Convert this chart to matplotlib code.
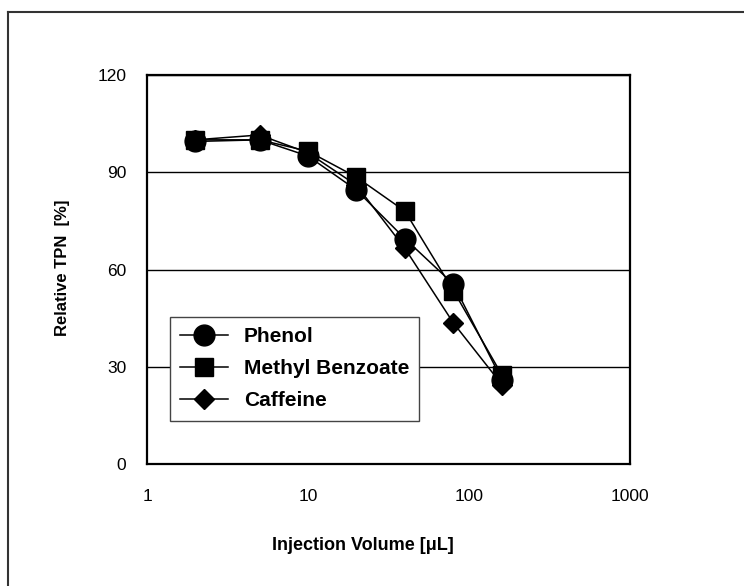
import matplotlib
matplotlib.use("Agg")
import matplotlib.pyplot as plt
from matplotlib.lines import Line2D

plt.rcParams["font.family"] = ["Liberation Sans", "DejaVu Sans"]

volumes = [2, 5, 10, 20, 40, 80, 160]
phenol = [99.5, 100, 95, 84.5, 69.5, 55.5, 26]
methyl_benzoate = [100, 100, 96.5, 88.5, 78, 53.5, 27.5]
caffeine = [100, 101.5, 96, 86, 66.5, 43.5, 24.5]

series = [
    ("Phenol", phenol, "o", 15),
    ("Methyl Benzoate", methyl_benzoate, "s", 13.5),
    ("Caffeine", caffeine, "D", 10.5),
]

W, H = 744, 586
fig = plt.figure(figsize=(W / 100, H / 100), dpi=100)
ax = fig.add_axes([147 / W, 1 - 464 / H, (630 - 147) / W, (464 - 75) / H])

for name, vals, mk, ms in series:
    ax.plot(volumes, vals, color="black", lw=1.1, marker=mk, markersize=ms,
            markerfacecolor="black", markeredgecolor="black", label=name)

ax.set_xscale("log")
ax.set_xlim(1, 1000)
ax.set_ylim(0, 120)
ax.set_xticks([1, 10, 100, 1000])
ax.set_xticklabels(["1", "10", "100", "1000"])
ax.minorticks_off()
ax.set_yticks([0, 30, 60, 90, 120])
ax.tick_params(axis="both", length=0, labelsize=12.5)
ax.tick_params(axis="x", pad=18)
ax.tick_params(axis="y", pad=15)
ax.grid(axis="y", color="black", lw=1)
ax.set_axisbelow(True)
for sp in ax.spines.values():
    sp.set_linewidth(1.6)

leg = ax.legend(loc="upper left", bbox_to_anchor=(0.047, 0.378), frameon=True,
                fancybox=False, edgecolor="#444444", framealpha=1,
                prop={"weight": "bold", "size": 15}, handlelength=2.3,
                handletextpad=0.75, labelspacing=0.62, borderpad=0.5,
                borderaxespad=0)
leg.get_frame().set_linewidth(1)

fig.text((272 + 453) / 2 / W, 1 - 545 / H, "Injection Volume [\u03bcL]",
         ha="center", va="center", fontsize=13, fontweight="bold")
fig.text(63 / W, 1 - 268 / H, "Relative TPN  [%]", rotation=90,
         ha="center", va="center", fontsize=12, fontweight="bold")

# outer frame (top and left edges visible)
fig.add_artist(Line2D([8 / W, 1], [1 - 12 / H, 1 - 12 / H], color="#333333", lw=1.5))
fig.add_artist(Line2D([8 / W, 8 / W], [0, 1 - 12 / H], color="#333333", lw=1.5))

fig.savefig("out.png", dpi=100)
